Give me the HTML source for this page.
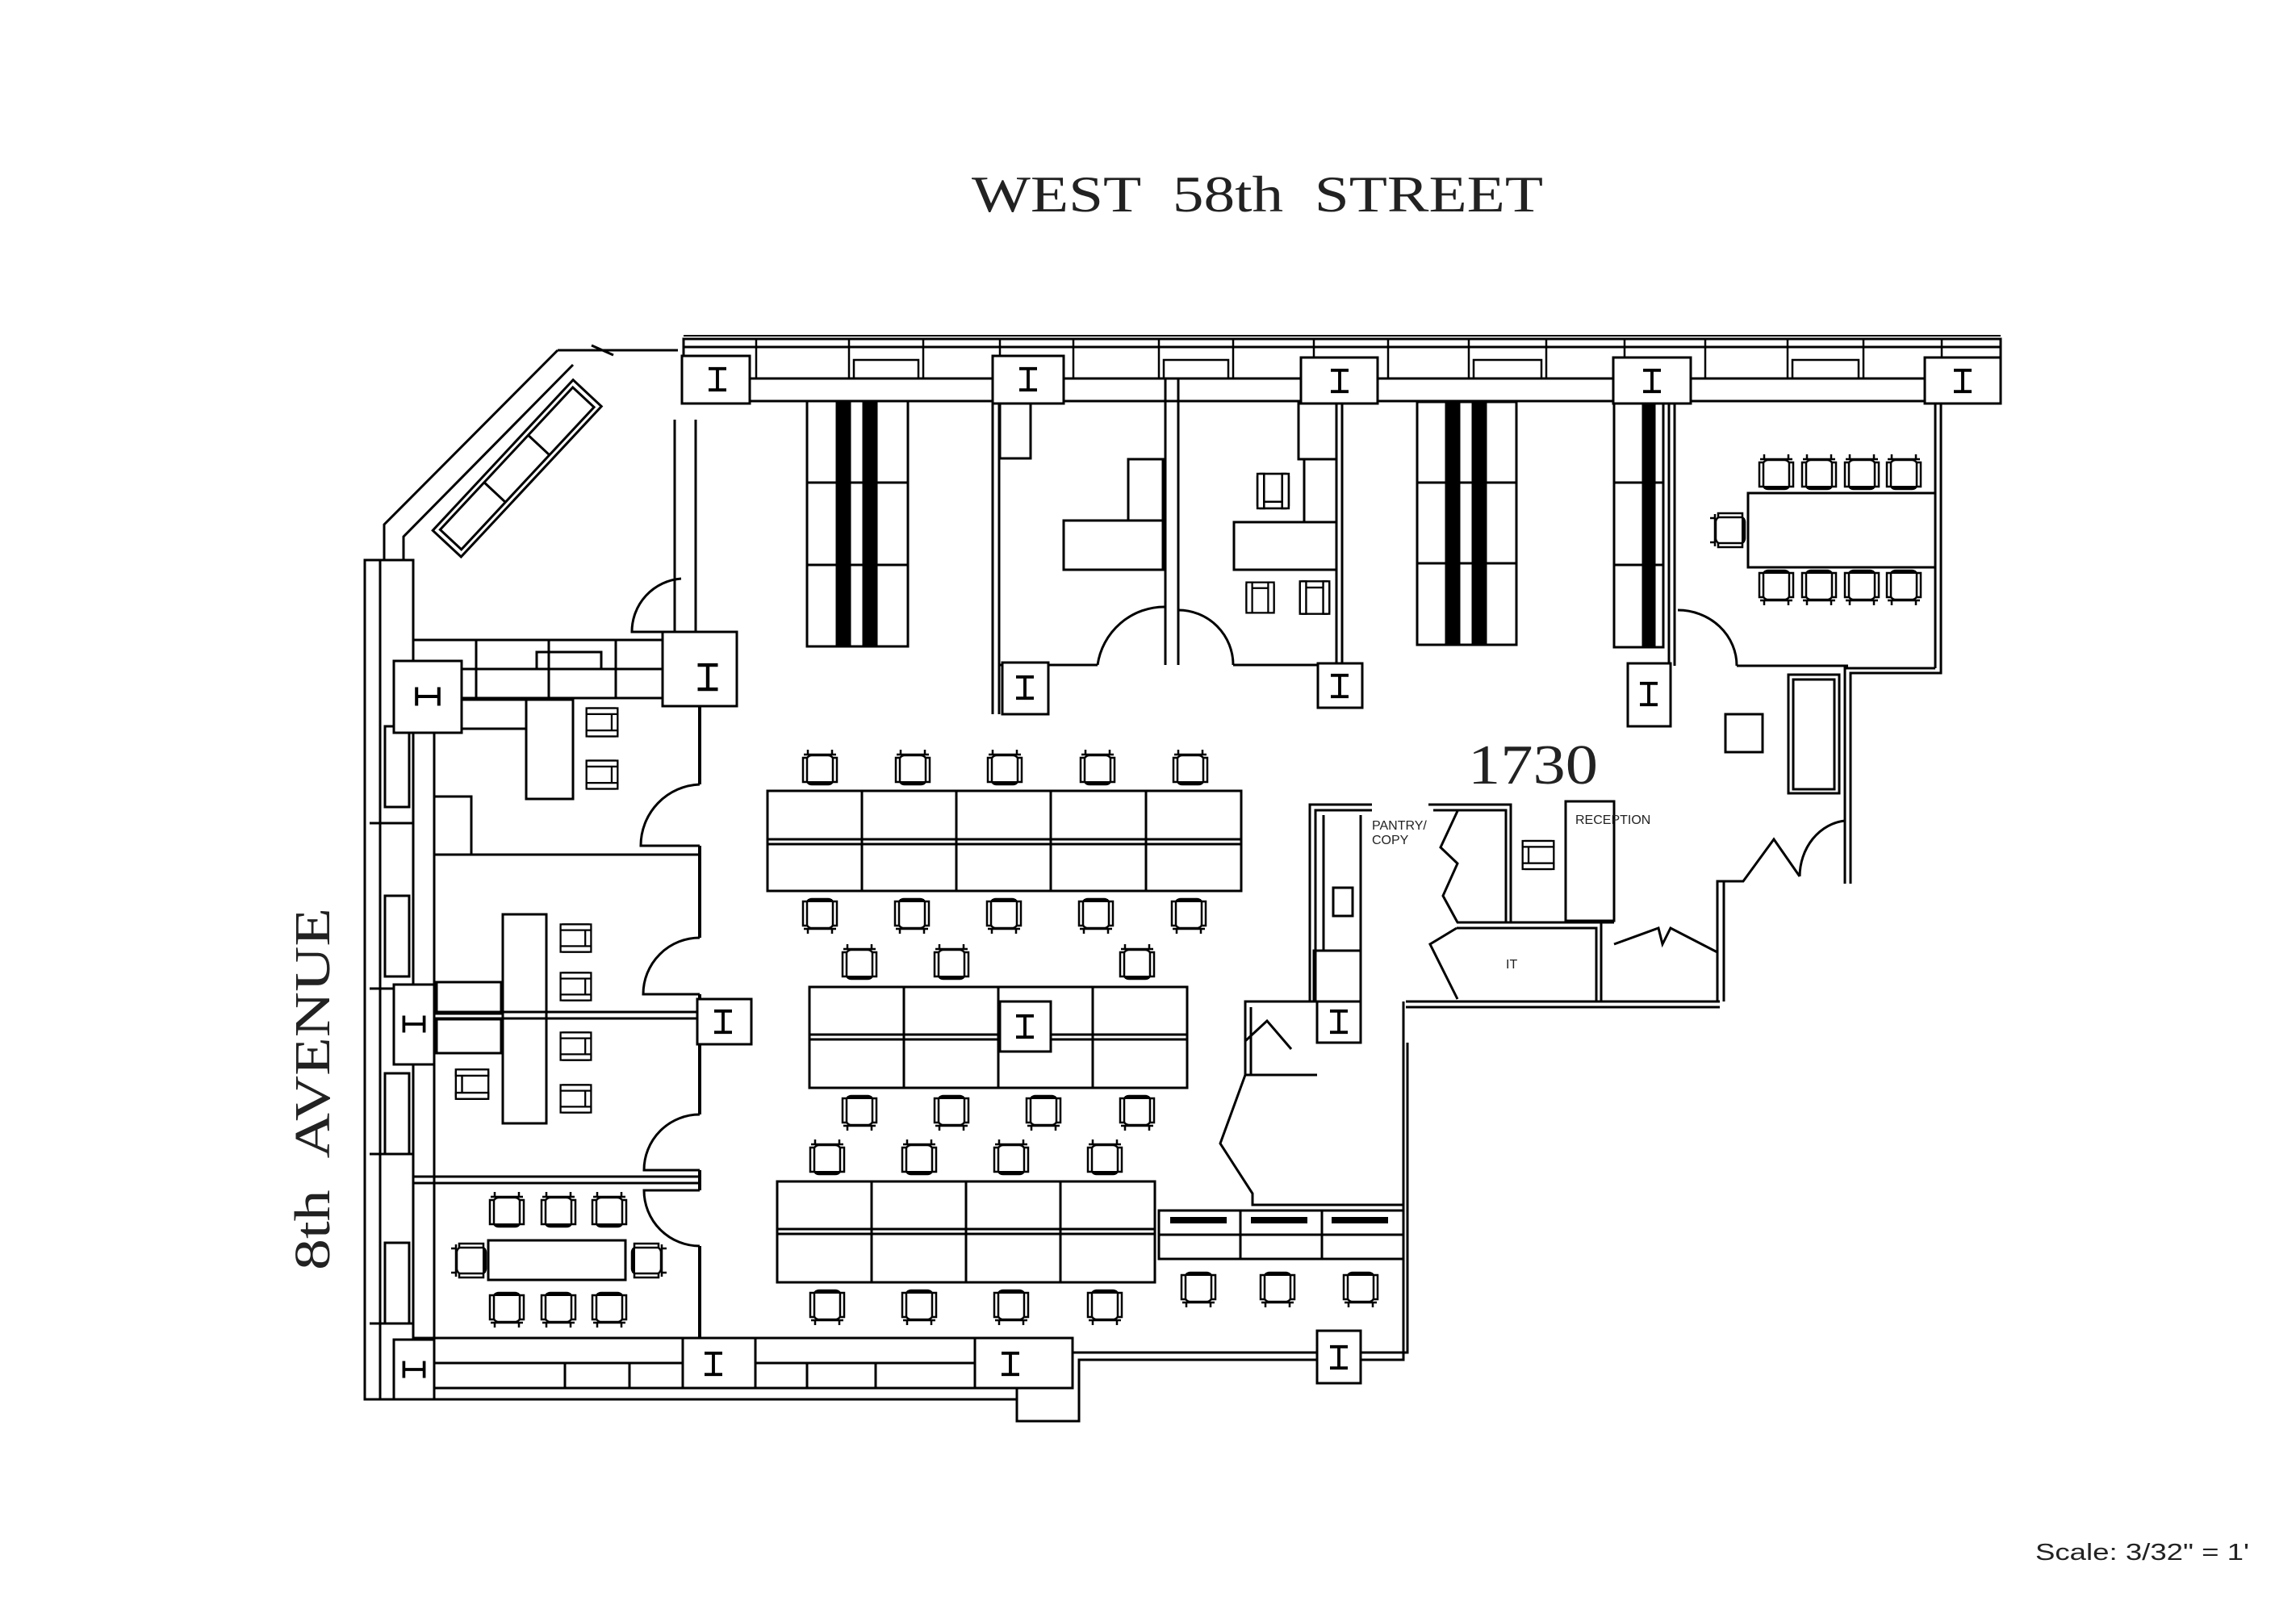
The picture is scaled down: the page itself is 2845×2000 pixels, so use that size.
<!DOCTYPE html>
<html><head><meta charset="utf-8"><style>
html,body{margin:0;padding:0;background:#fff;}
svg{display:block}
</style></head><body>
<svg width="2845" height="2000" viewBox="0 0 2845 2000" xmlns="http://www.w3.org/2000/svg">
<defs>
<symbol id="c" viewBox="0 0 50 50"><g fill="#fff" stroke="#000" stroke-width="2.5"><rect x="8" y="10" width="34" height="36" rx="7"/><path d="M5 9 H45 M10 3 V10 M40 3 V10" /><rect x="4" y="13" width="5" height="30"/><rect x="41" y="13" width="5" height="30"/><path d="M10 44 H40" stroke-width="4"/></g></symbol>
<symbol id="a" viewBox="0 0 50 50"><g fill="#fff" stroke="#000" stroke-width="2.5"><rect x="6" y="4" width="38" height="42" rx="3"/><rect x="6" y="4" width="8" height="42"/><rect x="36" y="4" width="8" height="42"/><path d="M14 12 H36"/></g></symbol>
<symbol id="ib" viewBox="0 0 40 40"><path d="M10 8 H30 M20 8 V32 M10 32 H30" stroke="#000" stroke-width="3.5" fill="none"/></symbol>
</defs>
<rect width="2845" height="2000" fill="#fff"/>

<text x="1204" y="262" font-family="Liberation Serif, serif" font-size="64" textLength="708" lengthAdjust="spacingAndGlyphs" fill="#222">WEST&#160;&#160;58th&#160;&#160;STREET</text>
<text transform="translate(408,1574) rotate(-90)" x="0" y="0" font-family="Liberation Serif, serif" font-size="62" textLength="449" lengthAdjust="spacingAndGlyphs" fill="#222">8th&#160;&#160;AVENUE</text>
<text x="1819" y="971" font-family="Liberation Serif, serif" font-size="70" textLength="161" lengthAdjust="spacingAndGlyphs" fill="#222">1730</text>
<text x="2522" y="1933" font-family="Liberation Sans, sans-serif" font-size="29" textLength="265" lengthAdjust="spacingAndGlyphs" fill="#222">Scale: 3/32" = 1'</text>

<g fill="none" stroke="#000" stroke-width="3">
<rect x="847" y="420" width="1632" height="49" fill="#fff"/>
<path d="M847 430 H2479"/>
<rect x="928" y="469" width="1474" height="28" fill="#fff"/>
<path d="M847 416 H2479" stroke-width="2"/>
<g stroke-width="2.5">
<path d="M937 420V469 M1052 420V469 M1144 420V469 M1239 420V469 M1330 420V469 M1436 420V469 M1528 420V469 M1628 420V469 M1720 420V469 M1820 420V469 M1916 420V469 M2013 420V469 M2113 420V469 M2215 420V469 M2309 420V469 M2406 420V469"/>
<rect x="1058" y="446" width="80" height="23"/><rect x="1442" y="446" width="80" height="23"/><rect x="1826" y="446" width="84" height="23"/><rect x="2221" y="446" width="82" height="23"/>
</g>
<path d="M733 434 H840 M733 428 L760 440 M691 434 L476 650 L476 694 M710 452 L500 665 L500 700" stroke-width="3"/>
<path d="M733 434 L691 434" />
<g transform="rotate(-47 640 590)"><rect x="520" y="560" width="255" height="48" fill="#fff"/><rect x="527" y="566" width="241" height="36"/><path d="M607 566V602 M687 566V602"/></g>
<path d="M836 520 V783 M862 520 V783" />
<path d="M844 717 A66 66 0 0 0 783 783 H844"/>
<rect x="496" y="793" width="417" height="72" fill="#fff"/>
<path d="M496 829 H821 M590 793 V865 M680 793 V865 M763 793 V865"/>
<rect x="665" y="808" width="80" height="21"/>
<rect x="452" y="694" width="60" height="1040" fill="#fff"/>
<path d="M471 694 V1734 M458 1020 H512 M458 1225 H512 M458 1430 H512 M458 1640 H512"/>
<rect x="477" y="900" width="30" height="100"/><rect x="477" y="1110" width="30" height="100"/><rect x="477" y="1330" width="30" height="100"/><rect x="477" y="1540" width="30" height="100"/>
<path d="M512 865 V1658 M538 908 V1658"/>
<rect x="512" y="1658" width="748" height="62" fill="#fff"/>
<path d="M538 1689 H1260 M471 1734 H1260 M700 1689V1720 M780 1689V1720 M1000 1689V1720 M1085 1689V1720"/>
<path d="M1260 1720 V1761 H1337 V1685 H1739 V1241 M1329 1676 H1744 V1292"/>
<path d="M867 875 V972 M867 1048 V1162 M867 1232 V1238 M867 1294 V1381 M867 1450 V1475 M867 1544 V1658" stroke-width="4"/>
<path d="M538 1059 H867 M538 1254 H864 M538 1262 H864 M512 1458 H869 M512 1466 H869"/>
<path d="M867 972 A76 76 0 0 0 794 1048 H867 M867 1162 A70 70 0 0 0 797 1232 H867 M867 1381 A69 69 0 0 0 798 1450 H867 M867 1544 A69 69 0 0 1 798 1475 H867"/>
<path d="M1230 497 V885 M1238 497 V885" />
<path d="M1238 824 H1360 M1444 469 V824 M1460 469 V824 M1528 824 H1660 M1656 497 V824 M1663 497 V824"/>
<path d="M1360 824 A84 84 0 0 1 1444 752 M1528 824 A68 68 0 0 0 1460 756"/>
<path d="M2068 497 V825 M2075 497 V825 M2152 825 H2290 M2398 497 V828 M2405 497 V834 H2293 V1095 M2398 828 H2286 V1095"/>
<path d="M2079 756 A73 69 0 0 1 2152 825"/>
<path d="M2286 1017 A62 70 0 0 0 2230 1086 M2230 1086 L2198 1040 L2160 1092 H2128 V1241 M2136 1092 V1241" />
<path d="M1742 1241 H2131 M1742 1248 H2131"/>
<path d="M1623 1241 V997 H1700 M1630 1241 V1004 H1700 M1640 1010 V1178 M1686 1010 V1178"/>
<rect x="1652" y="1100" width="24" height="35"/>
<path d="M1770 997 H1872 V1143 M1776 1004 H1866 V1143 M1806 1005 L1785 1050 L1806 1070 L1788 1110 L1806 1143"/>
<path d="M1805 1143 H1984 V1241 M1805 1150 H1978 V1241 M1805 1150 L1772 1170 L1806 1238"/>
<rect x="1940" y="993" width="60" height="148"/>
<path d="M1984 1241 V1143 H2000 M2000 1170 L2055 1150 L2060 1170 L2070 1150 L2128 1180" />
<rect x="2216" y="836" width="63" height="147"/><rect x="2222" y="842" width="51" height="136"/>
<rect x="2138" y="885" width="46" height="47"/>
<path d="M1632 1241 H1543 V1332 L1512 1417 L1552 1479 V1493 H1739 M1550 1248 V1332 M1543 1290 L1570 1265 L1600 1300 M1543 1332 H1632"/>
<rect x="1628" y="1178" width="58" height="63"/>
<rect x="951" y="980" width="587" height="124" fill="#fff"/>
<path d="M951 1040 H1538 M951 1046 H1538 M1068 980V1104 M1185 980V1104 M1302 980V1104 M1420 980V1104"/>
<rect x="1003" y="1223" width="468" height="125" fill="#fff"/>
<path d="M1003 1282 H1471 M1003 1288 H1471 M1120 1223V1348 M1237 1223V1348 M1354 1223V1348"/>
<rect x="963" y="1464" width="468" height="125" fill="#fff"/>
<path d="M963 1523 H1431 M963 1529 H1431 M1080 1464V1589 M1197 1464V1589 M1314 1464V1589"/>
<rect x="1436" y="1500" width="303" height="60" fill="#fff"/>
<path d="M1537 1500V1560 M1638 1500V1560 M1436 1530 H1739"/>
<path d="M1450 1512 H1520 M1550 1512 H1620 M1650 1512 H1720" stroke-width="8"/>
<g>
<rect x="1000" y="497" width="125" height="304"/><path d="M1000 598 H1125 M1000 700 H1125"/>
<rect x="1037" y="500" width="16" height="298" fill="#000"/><rect x="1070" y="500" width="16" height="298" fill="#000"/>
<rect x="1756" y="498" width="123" height="301"/><path d="M1756 598 H1879 M1756 698 H1879"/>
<rect x="1792" y="500" width="16" height="296" fill="#000"/><rect x="1825" y="500" width="16" height="296" fill="#000"/>
<rect x="2000" y="498" width="61" height="304"/><path d="M2000 598 H2061 M2000 700 H2061"/>
<rect x="2036" y="500" width="14" height="300" fill="#000"/>
</g>
<rect x="1318" y="645" width="123" height="61"/><rect x="1398" y="569" width="43" height="76"/>
<rect x="1239" y="500" width="38" height="68"/>
<rect x="1529" y="647" width="127" height="59"/><rect x="1609" y="500" width="47" height="69"/><rect x="1616" y="569" width="40" height="78"/>
<rect x="2166" y="611" width="232" height="92"/>
<rect x="572" y="867" width="80" height="36"/><rect x="652" y="867" width="58" height="123"/><rect x="538" y="987" width="46" height="72"/>
<rect x="623" y="1133" width="54" height="259"/><rect x="541" y="1217" width="80" height="39"/><rect x="541" y="1263" width="80" height="42"/>
<rect x="605" y="1537" width="170" height="49"/>
</g>

<g fill="#fff" stroke="#000" stroke-width="3">
<rect x="845" y="441" width="84" height="59"/><rect x="1230" y="441" width="88" height="59"/><rect x="1612" y="443" width="95" height="57"/><rect x="1999" y="443" width="96" height="57"/><rect x="2385" y="443" width="94" height="57"/>
<rect x="821" y="783" width="92" height="92"/><rect x="488" y="819" width="84" height="89"/>
<rect x="1242" y="821" width="57" height="64"/><rect x="1633" y="822" width="55" height="55"/><rect x="2017" y="822" width="53" height="78"/>
<rect x="864" y="1238" width="67" height="56"/><rect x="1239" y="1241" width="63" height="62"/><rect x="1632" y="1241" width="54" height="51"/>
<rect x="1632" y="1649" width="54" height="65"/><rect x="846" y="1658" width="90" height="62"/><rect x="1208" y="1658" width="121" height="62"/>
<rect x="488" y="1220" width="50" height="99"/><rect x="488" y="1660" width="50" height="74"/>
</g>
<g>
<use href="#ib" x="867" y="448" width="44" height="44"/><use href="#ib" x="1252" y="448" width="44" height="44"/><use href="#ib" x="1638" y="450" width="44" height="44"/><use href="#ib" x="2025" y="450" width="44" height="44"/><use href="#ib" x="2410" y="450" width="44" height="44"/>
<use href="#ib" x="852" y="814" width="50" height="50"/><use href="#ib" x="507" y="840" width="46" height="46" transform="rotate(90 530 863)"/>
<use href="#ib" x="1248" y="830" width="44" height="44"/><use href="#ib" x="1638" y="828" width="44" height="44"/><use href="#ib" x="2021" y="838" width="44" height="44"/>
<use href="#ib" x="874" y="1244" width="44" height="44"/><use href="#ib" x="1248" y="1250" width="44" height="44"/><use href="#ib" x="1637" y="1244" width="44" height="44"/>
<use href="#ib" x="1637" y="1660" width="44" height="44"/><use href="#ib" x="862" y="1668" width="44" height="44"/><use href="#ib" x="1230" y="1668" width="44" height="44"/>
<use href="#ib" x="492" y="1248" width="42" height="42" transform="rotate(90 513 1269)"/><use href="#ib" x="492" y="1676" width="42" height="42" transform="rotate(90 513 1697)"/>
</g>

<g>
<use href="#c" x="991" y="926" width="50" height="50"/><use href="#c" x="1106" y="926" width="50" height="50"/><use href="#c" x="1220" y="926" width="50" height="50"/><use href="#c" x="1335" y="926" width="50" height="50"/><use href="#c" x="1450" y="926" width="50" height="50"/>
<use href="#c" x="991" y="1110" width="50" height="50" transform="rotate(180 1016 1135)"/><use href="#c" x="1105" y="1110" width="50" height="50" transform="rotate(180 1130 1135)"/><use href="#c" x="1219" y="1110" width="50" height="50" transform="rotate(180 1244 1135)"/><use href="#c" x="1333" y="1110" width="50" height="50" transform="rotate(180 1358 1135)"/><use href="#c" x="1448" y="1110" width="50" height="50" transform="rotate(180 1473 1135)"/>
<use href="#c" x="1040" y="1167" width="50" height="50"/><use href="#c" x="1154" y="1167" width="50" height="50"/><use href="#c" x="1384" y="1167" width="50" height="50"/>
<use href="#c" x="1040" y="1354" width="50" height="50" transform="rotate(180 1065 1379)"/><use href="#c" x="1154" y="1354" width="50" height="50" transform="rotate(180 1179 1379)"/><use href="#c" x="1268" y="1354" width="50" height="50" transform="rotate(180 1293 1379)"/><use href="#c" x="1384" y="1354" width="50" height="50" transform="rotate(180 1409 1379)"/>
<use href="#c" x="1000" y="1409" width="50" height="50"/><use href="#c" x="1114" y="1409" width="50" height="50"/><use href="#c" x="1228" y="1409" width="50" height="50"/><use href="#c" x="1344" y="1409" width="50" height="50"/>
<use href="#c" x="1000" y="1595" width="50" height="50" transform="rotate(180 1025 1620)"/><use href="#c" x="1114" y="1595" width="50" height="50" transform="rotate(180 1139 1620)"/><use href="#c" x="1228" y="1595" width="50" height="50" transform="rotate(180 1253 1620)"/><use href="#c" x="1344" y="1595" width="50" height="50" transform="rotate(180 1369 1620)"/>
<use href="#c" x="1460" y="1573" width="50" height="50" transform="rotate(180 1485 1598)"/><use href="#c" x="1558" y="1573" width="50" height="50" transform="rotate(180 1583 1598)"/><use href="#c" x="1661" y="1573" width="50" height="50" transform="rotate(180 1686 1598)"/>
<use href="#c" x="2176" y="560" width="50" height="50"/><use href="#c" x="2229" y="560" width="50" height="50"/><use href="#c" x="2282" y="560" width="50" height="50"/><use href="#c" x="2334" y="560" width="50" height="50"/>
<use href="#c" x="2176" y="703" width="50" height="50" transform="rotate(180 2201 728)"/><use href="#c" x="2229" y="703" width="50" height="50" transform="rotate(180 2254 728)"/><use href="#c" x="2282" y="703" width="50" height="50" transform="rotate(180 2307 728)"/><use href="#c" x="2334" y="703" width="50" height="50" transform="rotate(180 2359 728)"/>
<use href="#c" x="2116" y="632" width="50" height="50" transform="rotate(-90 2141 657)"/>
<use href="#c" x="603" y="1474" width="50" height="50"/><use href="#c" x="667" y="1474" width="50" height="50"/><use href="#c" x="730" y="1474" width="50" height="50"/>
<use href="#c" x="603" y="1598" width="50" height="50" transform="rotate(180 628 1623)"/><use href="#c" x="667" y="1598" width="50" height="50" transform="rotate(180 692 1623)"/><use href="#c" x="730" y="1598" width="50" height="50" transform="rotate(180 755 1623)"/>
<use href="#c" x="556" y="1537" width="50" height="50" transform="rotate(-90 581 1562)"/><use href="#c" x="779" y="1537" width="50" height="50" transform="rotate(90 804 1562)"/>
<use href="#a" x="721" y="872" width="50" height="46" transform="rotate(90 746 895)"/><use href="#a" x="721" y="937" width="50" height="46" transform="rotate(90 746 960)"/>
<use href="#a" x="690" y="1140" width="49" height="45" transform="rotate(90 714 1162)"/><use href="#a" x="690" y="1200" width="49" height="45" transform="rotate(90 714 1222)"/><use href="#a" x="690" y="1274" width="49" height="45" transform="rotate(90 714 1296)"/><use href="#a" x="690" y="1339" width="49" height="45" transform="rotate(90 714 1361)"/>
<use href="#a" x="561" y="1320" width="49" height="48" transform="rotate(-90 585 1344)"/>
<use href="#a" x="1539" y="716" width="45" height="49"/><use href="#a" x="1605" y="716" width="48" height="49"/>
<use href="#a" x="1553" y="584" width="51" height="51" transform="rotate(180 1578 609)"/><use href="#a" x="1882" y="1037" width="49" height="46" transform="rotate(-90 1906 1060)"/>
</g>
<text x="1952" y="1021" font-family="Liberation Sans, sans-serif" font-size="16" fill="#222">RECEPTION</text>
<text x="1700" y="1028" font-family="Liberation Sans, sans-serif" font-size="16" fill="#222">PANTRY/</text>
<text x="1700" y="1046" font-family="Liberation Sans, sans-serif" font-size="16" fill="#222">COPY</text>
<text x="1866" y="1200" font-family="Liberation Sans, sans-serif" font-size="16" fill="#222">IT</text>
</svg>
</body></html>
